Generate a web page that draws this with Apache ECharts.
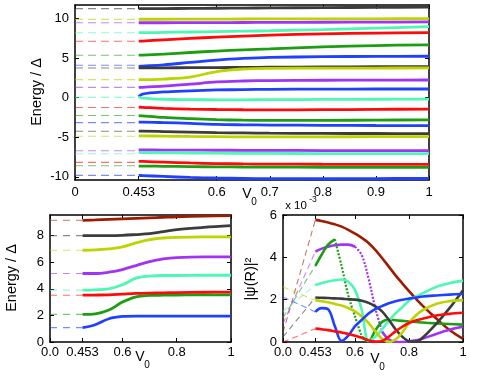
<!DOCTYPE html>
<html>
<head>
<meta charset="utf-8">
<script src="https://cdn.jsdelivr.net/npm/echarts@6/dist/echarts.min.js"></script>
<style>
html, body { margin: 0; padding: 0; background: #fff; }
#chart { width: 478px; height: 376px; }
</style>
</head>
<body>
<div id="chart"></div>
<script>
// the V0 axis is broken: 0 .. 0.453 is squeezed into a short stretch on the left
var V_BREAK = 0.453;
var SQUEEZE = 0.12;
function tx(v) { return v >= V_BREAK ? v : V_BREAK - SQUEEZE + v * SQUEEZE / V_BREAK; }

var COL = {
    gray: '#3c3c3c', yellow: '#bcd400', purple: '#a033f5', cyan: '#4cf8b4',
    red: '#ff0a0a', green: '#1c9e12', blue: '#2040ff', brown: '#9e1a00'
};

// ---------- top panel: Energy / Delta vs V0 ----------
var topX = [0.453, 0.46, 0.5, 0.55, 0.6, 0.65, 0.7, 0.8, 0.9, 1.0];
var topDashE = [11.24, 9.88, 9.46, 8.2, 7.13, 5.36, 4.09, 3.75, 2.27, 1.30, 0.03,
    -1.24, -2.26, -3.15, -4.24, -4.87, -6.70, -7.08, -8.17, -8.6, -9.82];
var topDashC = ['gray', 'yellow', 'purple', 'cyan', 'red', 'green', 'blue',
    'gray', 'yellow', 'purple', 'cyan', 'red', 'green', 'blue',
    'gray', 'yellow', 'purple', 'cyan', 'red', 'green', 'blue'];
var topLevels = [
    [11.24, 11.24, 11.25, 11.27, 11.29, 11.31, 11.33, 11.37, 11.4, 11.43],
    [9.9, 9.9, 9.9, 9.91, 9.92, 9.93, 9.94, 9.95, 9.96, 9.97],
    [9.46, 9.46, 9.46, 9.47, 9.48, 9.49, 9.5, 9.52, 9.54, 9.56],
    [8.2, 8.2, 8.24, 8.29, 8.34, 8.39, 8.45, 8.6, 8.78, 8.96],
    [7.13, 7.15, 7.3, 7.48, 7.64, 7.78, 7.9, 8.05, 8.15, 8.2],
    [5.36, 5.38, 5.5, 5.7, 5.88, 6.03, 6.15, 6.4, 6.58, 6.67],
    [3.96, 3.99, 4.15, 4.45, 4.75, 4.95, 5.08, 5.17, 5.21, 5.23],
    [3.76, 3.76, 3.77, 3.78, 3.8, 3.82, 3.84, 3.87, 3.9, 3.92],
    [2.27, 2.27, 2.35, 2.6, 3.3, 3.62, 3.7, 3.73, 3.74, 3.75],
    [1.29, 1.31, 1.45, 1.7, 1.98, 2.1, 2.16, 2.2, 2.22, 2.23],
    [0.12, 0.45, 0.72, 0.86, 0.97, 1.02, 1.05, 1.08, 1.09, 1.09],
    [0.08, -0.05, -0.2, -0.25, -0.27, -0.27, -0.26, -0.23, -0.2, -0.18],
    [-1.2, -1.22, -1.35, -1.45, -1.5, -1.53, -1.54, -1.52, -1.48, -1.45],
    [-2.26, -2.3, -2.5, -2.65, -2.78, -2.85, -2.88, -2.87, -2.84, -2.8],
    [-3.1, -3.1, -3.15, -3.25, -3.38, -3.43, -3.46, -3.5, -3.52, -3.53],
    [-4.24, -4.24, -4.28, -4.35, -4.42, -4.46, -4.49, -4.52, -4.53, -4.54],
    [-4.84, -4.84, -4.86, -4.9, -4.93, -4.95, -4.96, -4.95, -4.93, -4.92],
    [-6.61, -6.61, -6.62, -6.63, -6.64, -6.65, -6.66, -6.68, -6.69, -6.7],
    [-6.95, -6.95, -6.97, -6.99, -7.01, -7.03, -7.04, -7.06, -7.07, -7.08],
    [-8.05, -8.06, -8.15, -8.25, -8.32, -8.37, -8.39, -8.41, -8.42, -8.43],
    [-8.64, -8.64, -8.67, -8.71, -8.74, -8.76, -8.77, -8.79, -8.8, -8.81],
    [-9.82, -9.84, -9.95, -10.08, -10.15, -10.2, -10.23, -10.24, -10.22, -10.2]
];
var topLevelC = ['gray', 'yellow', 'purple', 'cyan', 'red', 'green', 'blue', 'gray', 'yellow', 'purple',
    'blue', 'cyan', 'red', 'green', 'blue', 'gray', 'yellow', 'purple', 'cyan', 'red', 'green', 'blue'];
var topXTicks = [0, 0.453, 0.6, 0.7, 0.8, 0.9, 1];
var topXLabels = ['0', '0.453', '0.6', '0.7', '0.8', '0.9', '1'];
var topYTicks = [-10, -5, 0, 5, 10];

// ---------- bottom left: zoom on the lowest levels ----------
var blX = [0.453, 0.5, 0.55, 0.6, 0.65, 0.7, 0.75, 0.8, 0.9, 1.0];
var blBlue = [1.08, 1.3, 1.75, 1.92, 1.95, 1.95, 1.95, 1.95, 1.95, 1.95];
var blGreen = [2.08, 2.12, 2.4, 3.0, 3.4, 3.5, 3.52, 3.53, 3.55, 3.55];
var blRed = [3.52, 3.53, 3.55, 3.6, 3.65, 3.68, 3.7, 3.72, 3.74, 3.75];
var blCyan = [3.9, 3.92, 4.0, 4.3, 4.8, 4.95, 5.0, 5.0, 5.02, 5.02];
var blPurple = [5.15, 5.15, 5.25, 5.45, 5.75, 6.05, 6.25, 6.35, 6.4, 6.4];
var blYellow = [6.9, 6.92, 7.0, 7.15, 7.45, 7.7, 7.82, 7.87, 7.9, 7.9];
var blGray = [8.0, 8.0, 8.0, 8.02, 8.08, 8.15, 8.3, 8.45, 8.62, 8.75];
var blBrown = [9.15, 9.18, 9.22, 9.26, 9.3, 9.34, 9.38, 9.42, 9.47, 9.5];
var blXTicks = [0, 0.453, 0.6, 0.8, 1];
var blXLabels = ['0.0', '0.453', '0.6', '0.8', '1'];
var blYTicks = [0, 2, 4, 6, 8];

// ---------- bottom right: |psi(R)|^2 (x 1e-3) ----------
var brX = [0.453, 0.475, 0.5, 0.525, 0.55, 0.575, 0.6, 0.625, 0.65, 0.675, 0.7,
    0.725, 0.75, 0.775, 0.8, 0.825, 0.85, 0.9, 0.95, 1.0];
var brBrown = [5.77, 5.72, 5.65, 5.56, 5.45, 5.3, 5.12, 4.92, 4.68, 4.35, 3.97, 3.56, 3.15, 2.77, 2.4, 2.05, 1.72, 1.12, 0.57, 0.15];
var brPurple = [4.27, 4.4, 4.5, 4.57, 4.6, 4.6, 4.5, 4.1, 3.0, 1.6, 0.5, 0.12, 0.01, 0.0, 0.02, 0.08, 0.15, 0.38, 0.58, 0.72];
var brGreen = [3.6, 4.1, 4.6, 4.85, 3.6, 2.2, 1.2, 0.25, 0.05, 0.55, 0.95, 1.05, 1.03, 1.0, 0.97, 0.95, 0.92, 0.88, 0.85, 0.82];
var brCyan = [2.69, 2.78, 2.86, 2.92, 2.95, 2.85, 2.45, 1.5, 0.05, 0.25, 0.6, 1.0, 1.35, 1.65, 1.95, 2.15, 2.3, 2.6, 2.78, 2.9];
var brGray = [2.1, 2.09, 2.08, 2.06, 2.05, 2.02, 2.0, 1.95, 1.85, 1.68, 1.45, 1.05, 0.6, 0.25, 0.04, 0.02, 0.2, 0.85, 1.6, 2.45];
var brYellow = [1.97, 1.93, 1.88, 1.8, 1.72, 1.6, 1.45, 1.2, 0.9, 0.5, 0.15, 0.0, 0.12, 0.45, 0.9, 1.25, 1.5, 1.8, 1.93, 1.98];
var brBlue = [1.42, 1.6, 1.55, 0.75, 0.05, 0.3, 0.75, 1.05, 1.35, 1.55, 1.7, 1.83, 1.93, 2.0, 2.05, 2.1, 2.15, 2.2, 2.24, 2.27];
var brRed = [0.63, 0.6, 0.56, 0.5, 0.45, 0.38, 0.3, 0.2, 0.08, 0.02, 0.05, 0.25, 0.5, 0.72, 0.9, 1.02, 1.1, 1.25, 1.33, 1.38];
// values at V0 = 0 where the dashed guides start
var brAtZero = { brown: 0.45, purple: 0.87, green: 1.15, cyan: 1.45, gray: 0.24, yellow: 2.6, blue: 2.13, red: 0.0 };
var brXTicks = [0, 0.453, 0.6, 0.8, 1];
var brXLabels = ['0.0', '0.453', '0.6', '0.8', '1'];
var brYTicks = [0, 2, 4, 6];

var FONT = 'Liberation Sans, Arial, sans-serif';

function labelFor(ticks, labels) {
    return function (val) {
        for (var i = 0; i < ticks.length; i++) {
            if (Math.abs(tx(ticks[i]) - val) < 1e-6) return labels[i];
        }
        return '';
    };
}

function xAxes(gi, ticks, labels, margin) {
    var vals = ticks.map(tx);
    var base = {
        type: 'value', gridIndex: gi, min: tx(0), max: 1,
        splitLine: { show: false },
        axisLine: { show: true, onZero: false, lineStyle: { color: '#000', width: 1.5 } },
        axisTick: { show: true, inside: true, length: 4, customValues: vals, lineStyle: { color: '#000', width: 1 } }
    };
    var bottom = Object.assign({}, base, {
        position: 'bottom',
        axisLabel: { show: true, customValues: vals, formatter: labelFor(ticks, labels), color: '#000',
            fontFamily: FONT, fontSize: 13, margin: margin, hideOverlap: false }
    });
    var top = Object.assign({}, base, { position: 'top', axisLabel: { show: false } });
    return [bottom, top];
}

function yAxes(gi, min, max, ticks) {
    var base = {
        type: 'value', gridIndex: gi, min: min, max: max,
        splitLine: { show: false },
        axisLine: { show: true, onZero: false, lineStyle: { color: '#000', width: 1.5 } },
        axisTick: { show: true, inside: true, length: 4, customValues: ticks, lineStyle: { color: '#000', width: 1 } }
    };
    var left = Object.assign({}, base, {
        position: 'left',
        axisLabel: { show: true, customValues: ticks, color: '#000', fontFamily: FONT, fontSize: 13, margin: 6, hideOverlap: false }
    });
    var right = Object.assign({}, base, { position: 'right', axisLabel: { show: false } });
    return [left, right];
}

function solid(gi, xs, ys, color, width, lineType) {
    return {
        type: 'line', xAxisIndex: gi * 2, yAxisIndex: gi * 2,
        data: xs.map(function (v, i) { return [tx(v), ys[i]]; }),
        smooth: 0.35, showSymbol: false, silent: true, connectNulls: false,
        lineStyle: { color: COL[color], width: width, type: lineType || 'solid' },
        itemStyle: { color: COL[color] }, z: 3
    };
}

function dashed(gi, y0, y1, color, dash) {
    return {
        type: 'line', xAxisIndex: gi * 2, yAxisIndex: gi * 2,
        data: [[tx(0), y0], [tx(V_BREAK), y1]],
        showSymbol: false, silent: true,
        lineStyle: { color: COL[color], width: 1.1, type: dash, opacity: 0.6 },
        itemStyle: { color: COL[color] }, z: 2
    };
}

// split a curve into a solid part and a dotted part inside [a, b]
function splitDotted(gi, xs, ys, color, a, b) {
    var outer = ys.map(function (y, i) { return (xs[i] <= a || xs[i] >= b) ? y : null; });
    var inner = ys.map(function (y, i) { return (xs[i] >= a && xs[i] <= b) ? y : null; });
    return [solid(gi, xs, outer, color, 2.6), solid(gi, xs, inner, color, 2.2, [2, 1.6])];
}

var series = [];
// top
topDashE.forEach(function (e, i) { series.push(dashed(0, e, e, topDashC[i], [8, 5])); });
topLevels.forEach(function (ys, i) { series.push(solid(0, topX, ys, topLevelC[i], 2.8)); });

// bottom left
[[blBlue, 'blue'], [blGreen, 'green'], [blRed, 'red'], [blCyan, 'cyan'],
 [blPurple, 'purple'], [blYellow, 'yellow'], [blGray, 'gray'], [blBrown, 'brown']].forEach(function (p) {
    series.push(dashed(1, p[0][0], p[0][0], p[1], [7, 6]));
    series.push(solid(1, blX, p[0], p[1], 2.8));
});

// bottom right
var brSets = [[brBrown, 'brown'], [brPurple, 'purple'], [brGreen, 'green'], [brCyan, 'cyan'],
    [brGray, 'gray'], [brYellow, 'yellow'], [brBlue, 'blue'], [brRed, 'red']];
brSets.forEach(function (p) {
    series.push(dashed(2, brAtZero[p[1]], p[0][0], p[1], [6, 4]));
});
series.push(solid(2, brX, brBrown, 'brown', 2.6));
series = series.concat(splitDotted(2, brX, brPurple, 'purple', 0.6, 0.7));
series = series.concat(splitDotted(2, brX, brGreen, 'green', 0.525, 0.625));
series.push(solid(2, brX, brCyan, 'cyan', 2.6));
series.push(solid(2, brX, brGray, 'gray', 2.6));
series.push(solid(2, brX, brYellow, 'yellow', 2.6));
series.push(solid(2, brX, brBlue, 'blue', 2.6));
series.push(solid(2, brX, brRed, 'red', 2.6));

function txt(x, y, s, size, opts) {
    return Object.assign({
        type: 'text', x: x, y: y, silent: true,
        style: { text: s, font: size + 'px ' + FONT, fill: '#000', textAlign: 'center', textVerticalAlign: 'middle' }
    }, opts || {});
}

var graphics = [
    txt(37, 92, 'Energy / \u0394', 14.5, { rotation: Math.PI / 2 }),
    txt(12, 278, 'Energy / \u0394', 14.5, { rotation: Math.PI / 2 }),
    txt(251, 279, '|\u03c8(R)|\u00b2', 14.5, { rotation: Math.PI / 2 }),
    txt(247, 194, 'V', 14),
    txt(254, 202, '0', 10),
    txt(140, 357, 'V', 14),
    txt(147, 365, '0', 10),
    txt(375, 359, 'V', 14),
    txt(382, 367, '0', 10),
    txt(296, 206, 'x 10', 11.5),
    txt(313, 200, '-3', 8.5)
];

var chart = echarts.init(document.getElementById('chart'), null, { renderer: 'canvas' });
var option = {
    animation: false,
    backgroundColor: '#fff',
    grid: [
        { left: 75, right: 49, top: 5, bottom: 196, containLabel: false, outerBoundsMode: 'none' },
        { left: 50, right: 247, top: 215, bottom: 34, containLabel: false, outerBoundsMode: 'none' },
        { left: 283, right: 15, top: 215, bottom: 34, containLabel: false, outerBoundsMode: 'none' }
    ],
    xAxis: [].concat(xAxes(0, topXTicks, topXLabels, 6), xAxes(1, blXTicks, blXLabels, 4), xAxes(2, brXTicks, brXLabels, 4)),
    yAxis: [].concat(yAxes(0, -10.4, 11.7, topYTicks), yAxes(1, 0, 9.55, blYTicks), yAxes(2, 0, 6, brYTicks)),
    series: series,
    graphic: graphics
};
chart.setOption(option);
</script>
</body>
</html>
